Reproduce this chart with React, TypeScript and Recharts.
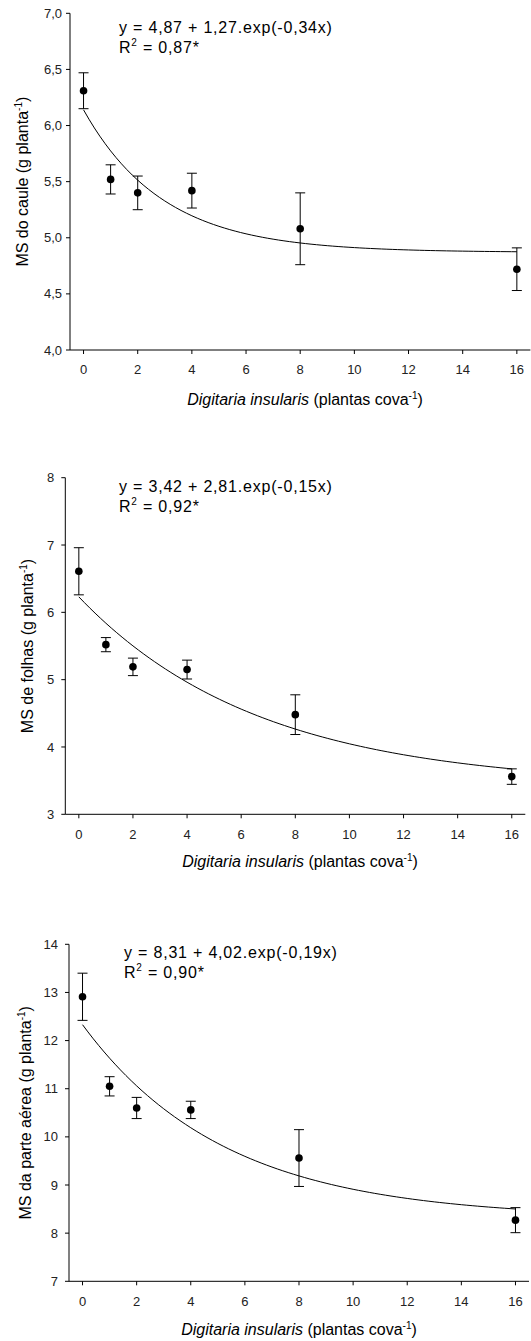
import { ComposedChart, Line, Scatter, ErrorBar, XAxis, YAxis } from 'recharts';

// plants of Digitaria insularis per pit
const doses = [0, 1, 2, 4, 8, 16];
const xTicks = [0, 2, 4, 6, 8, 10, 12, 14, 16];

// stem dry mass (g plant-1), mean and standard error
const stemMean = [6.31, 5.52, 5.40, 5.42, 5.08, 4.72];
const stemErr = [0.16, 0.13, 0.15, 0.155, 0.32, 0.19];
const stemFit = [4.87, 1.27, 0.34];
const stemR2 = '0,87*';
const stemTicks = [4, 4.5, 5, 5.5, 6, 6.5, 7];

// leaf dry mass
const leafMean = [6.61, 5.52, 5.19, 5.15, 4.48, 3.56];
const leafErr = [0.35, 0.105, 0.13, 0.14, 0.295, 0.115];
const leafFit = [3.42, 2.81, 0.15];
const leafR2 = '0,92*';
const leafTicks = [3, 4, 5, 6, 7, 8];

// shoot dry mass
const shootMean = [12.91, 11.05, 10.6, 10.56, 9.56, 8.27];
const shootErr = [0.49, 0.2, 0.22, 0.18, 0.59, 0.26];
const shootFit = [8.31, 4.02, 0.19];
const shootR2 = '0,90*';
const shootTicks = [7, 8, 9, 10, 11, 12, 13, 14];

const FONT = '"Liberation Sans", Arial, Helvetica, sans-serif';
const W = 531;

const comma = (v: number, d: number) => v.toFixed(d).replace('.', ',');

// y = a + b.exp(-c x), sampled along the dose range
const fitCurve = (fit: number[]) => {
  const pts = [];
  for (let i = 0; i <= 80; i++) {
    const x = i * 0.2;
    pts.push({ x, y: fit[0] + fit[1] * Math.exp(-fit[2] * x) });
  }
  return pts;
};

const Dot = (props: any) => <circle cx={props.cx} cy={props.cy} r={3.8} fill="#000" />;

type PanelProps = {
  top: number;
  height: number;
  marginTop: number;
  yWidth: number;
  marginRight: number;
  ticks: number[];
  decimals: number;
  tickGap: number;
  mean: number[];
  err: number[];
  fit: number[];
  r2: string;
  title: string;
  eqX: number;
  eqY: number;
  yLabelX: number;
  xLabelX: number;
  xLabelY: number;
};

const Panel = (p: PanelProps) => {
  const points = doses.map((d, i) => ({ x: d, y: p.mean[i], err: p.err[i] }));
  const plotH = p.height - p.marginTop - 60;
  const midY = p.marginTop + plotH / 2;
  const eq = `y = ${comma(p.fit[0], 2)} + ${comma(p.fit[1], 2)}.exp(-${comma(p.fit[2], 2)}x)`;
  return (
    <div style={{ position: 'absolute', left: 0, top: p.top, width: W, height: p.height }}>
      <ComposedChart
        width={W}
        height={p.height}
        margin={{ top: p.marginTop, right: p.marginRight, left: 0, bottom: 0 }}
      >
        <XAxis
          type="number"
          dataKey="x"
          domain={[-0.5, 16.5]}
          ticks={xTicks}
          height={60}
          tickSize={4}
          tickMargin={11}
          stroke="#000"
          tick={{ fill: '#222', fontSize: 13, fontFamily: FONT }}
        />
        <YAxis
          type="number"
          dataKey="y"
          domain={[p.ticks[0], p.ticks[p.ticks.length - 1]]}
          ticks={p.ticks}
          width={p.yWidth}
          tickSize={4}
          tickMargin={p.tickGap}
          stroke="#000"
          tickFormatter={(v: number) => comma(v, p.decimals)}
          tick={{ fill: '#222', fontSize: 13, fontFamily: FONT }}
        />
        <Line
          data={fitCurve(p.fit)}
          dataKey="y"
          type="linear"
          stroke="#000"
          strokeWidth={1}
          dot={false}
          activeDot={false}
          isAnimationActive={false}
        />
        <Scatter data={points} dataKey="y" shape={Dot} isAnimationActive={false}>
          <ErrorBar dataKey="err" direction="y" width={5} stroke="#000" strokeWidth={1} />
        </Scatter>
      </ComposedChart>
      <svg
        width={W}
        height={p.height}
        style={{ position: 'absolute', left: 0, top: 0, pointerEvents: 'none' }}
        fontFamily={FONT}
        fill="#000"
      >
        <text x={p.eqX} y={p.eqY} fontSize={16} letterSpacing={0.8}>{eq}</text>
        <text x={p.eqX} y={p.eqY + 20} fontSize={16} letterSpacing={0.8}>
          R<tspan dy={-7} fontSize={10}>2</tspan>
          <tspan dy={7}>{` = ${p.r2}`}</tspan>
        </text>
        <text
          x={p.yLabelX}
          y={midY}
          fontSize={16}
          textAnchor="middle"
          transform={`rotate(-90, ${p.yLabelX}, ${midY})`}
        >
          {`${p.title} (g planta`}
          <tspan dy={-6} fontSize={10}>-1</tspan>
          <tspan dy={6}>)</tspan>
        </text>
        <text x={p.xLabelX} y={p.xLabelY} fontSize={16} textAnchor="middle">
          <tspan fontStyle="italic">Digitaria insularis</tspan>
          {' (plantas cova'}
          <tspan dy={-6} fontSize={10}>-1</tspan>
          <tspan dy={6}>)</tspan>
        </text>
      </svg>
    </div>
  );
};

export default function App() {
  return (
    <div style={{ position: 'absolute', left: 0, top: 0, width: W, height: 1341, background: '#fff' }}>
      <Panel
        top={0} height={410} marginTop={13.3} yWidth={70} marginRight={0.6}
        ticks={stemTicks} decimals={1} tickGap={4}
        mean={stemMean} err={stemErr} fit={stemFit} r2={stemR2} title="MS do caule"
        eqX={119} eqY={33} yLabelX={28.3} xLabelX={305} xLabelY={405}
      />
      <Panel
        top={440} height={434.3} marginTop={37.7} yWidth={65.3} marginRight={5.7}
        ticks={leafTicks} decimals={0} tickGap={7}
        mean={leafMean} err={leafErr} fit={leafFit} r2={leafR2} title="MS de folhas"
        eqX={119} eqY={51.7} yLabelX={33.3} xLabelX={300} xLabelY={427}
      />
      <Panel
        top={900} height={441.3} marginTop={44.3} yWidth={69} marginRight={2}
        ticks={shootTicks} decimals={0} tickGap={7}
        mean={shootMean} err={shootErr} fit={shootFit} r2={shootR2} title="MS da parte aérea"
        eqX={124} eqY={57.5} yLabelX={31} xLabelX={299} xLabelY={435}
      />
    </div>
  );
}
